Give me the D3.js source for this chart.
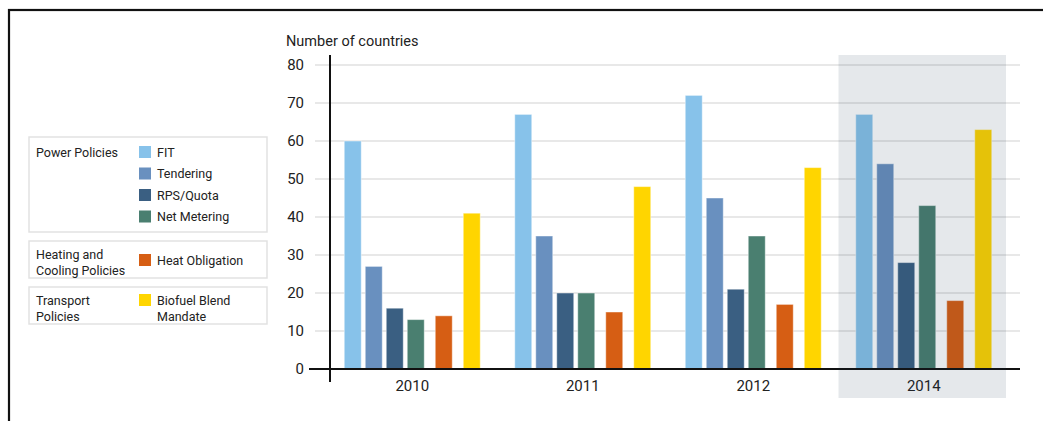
<!DOCTYPE html>
<html>
<head>
<meta charset="utf-8">
<script src="https://cdn.jsdelivr.net/npm/d3@7"></script>
<style>
    html, body { margin: 0; padding: 0; background: #fff; }
    svg { display: block; font-family: Roboto, "Liberation Sans", sans-serif; }
</style>
</head>
<body>
<div id="chart"></div>
<script>
// ── Policy counts by year ──

const years = ['2010', '2011', '2012', '2014'];
const seriesKeys = ['FIT', 'Tendering', 'RPS/Quota', 'Net Metering', 'Heat Obligation', 'Biofuel Blend Mandate'];
const seriesColors = ['#87c2ea', '#6990bf', '#3a5f82', '#4a7f70', '#d65e14', '#ffd500'];
const seriesPolicy = [0, 0, 0, 0, 1, 2];   // power / heating & cooling / transport

const fitValues = [60, 67, 72, 67];
const tenderingValues = [27, 35, 45, 54];
const rpsValues = [16, 20, 21, 28];
const netMeteringValues = [13, 20, 35, 43];
const heatValues = [14, 15, 17, 18];
const biofuelValues = [41, 48, 53, 63];

const yTicks = [0, 10, 20, 30, 40, 50, 60, 70, 80];
const highlightYear = '2014';

const legendGroups = [
    { title: ['Power Policies'], items: [0, 1, 2, 3] },
    { title: ['Heating and', 'Cooling Policies'], items: [4] },
    { title: ['Transport', 'Policies'], items: [5] },
];
const legendLabels = [['FIT'], ['Tendering'], ['RPS/Quota'], ['Net Metering'], ['Heat Obligation'], ['Biofuel Blend', 'Mandate']];

const allValues = [fitValues, tenderingValues, rpsValues, netMeteringValues, heatValues, biofuelValues];

const width = 1043, height = 421;

const svg = d3.select('#chart').append('svg')
    .attr('width', width)
    .attr('height', height);

// Frame
svg.append('rect')
    .attr('x', 9).attr('y', 10)
    .attr('width', width).attr('height', height)
    .attr('fill', 'none')
    .attr('stroke', '#111')
    .attr('stroke-width', 2.2);

// Scales
const x0 = d3.scaleBand().domain(years).range([327, 1009]);
const groupWidth = 136;
const policyGap = 7;
const x1 = d3.scaleBand().domain(seriesKeys).range([0, 122]).paddingInner(4 / 21);
const y = d3.scaleLinear().domain([0, 80]).range([369, 65]);

// Gridlines
svg.append('g')
    .selectAll('line')
    .data(yTicks.filter(t => t > 0))
    .join('line')
    .attr('x1', 315).attr('x2', 1020)
    .attr('y1', d => y(d)).attr('y2', d => y(d))
    .attr('stroke', '#e0e0e0')
    .attr('stroke-width', 1.6);

// Bars
const bars = [];
years.forEach((yr, i) => {
    seriesKeys.forEach((k, j) => {
        bars.push({ year: yr, key: k, value: allValues[j][i], color: seriesColors[j], policy: seriesPolicy[j] });
    });
});

svg.append('g')
    .selectAll('rect')
    .data(bars)
    .join('rect')
    .attr('x', d => x0(d.year) + (x0.bandwidth() - groupWidth) / 2 + x1(d.key) + d.policy * policyGap)
    .attr('y', d => y(d.value))
    .attr('width', x1.bandwidth())
    .attr('height', d => y(0) - y(d.value))
    .attr('fill', d => d.color)
    .attr('stroke', 'rgba(255,255,255,0.45)')
    .attr('stroke-width', 1);

// Axes lines
svg.append('line')
    .attr('x1', 330).attr('x2', 330)
    .attr('y1', 55).attr('y2', 382)
    .attr('stroke', '#111').attr('stroke-width', 2);

svg.append('line')
    .attr('x1', 309).attr('x2', 1020)
    .attr('y1', y(0)).attr('y2', y(0))
    .attr('stroke', '#111').attr('stroke-width', 2);

// Y tick labels
svg.append('g')
    .selectAll('text')
    .data(yTicks)
    .join('text')
    .attr('x', 304)
    .attr('y', d => y(d))
    .attr('dy', '0.36em')
    .attr('text-anchor', 'end')
    .attr('font-size', 15)
    .attr('fill', '#222')
    .text(d => d);

svg.append('text')
    .attr('x', 286).attr('y', 46)
    .attr('font-size', 14.5)
    .attr('fill', '#222')
    .text('Number of countries');

// Category labels
svg.append('g')
    .selectAll('text')
    .data(years)
    .join('text')
    .attr('x', d => x0(d) + x0.bandwidth() / 2)
    .attr('y', 391)
    .attr('text-anchor', 'middle')
    .attr('font-size', 15)
    .attr('fill', '#222')
    .text(d => d);

// Highlight band (overlay on top)
svg.append('rect')
    .attr('x', x0(highlightYear))
    .attr('y', 55)
    .attr('width', x0.bandwidth() - 3)
    .attr('height', 343)
    .attr('fill', 'rgb(24,55,81)')
    .attr('fill-opacity', 0.115);

// Legend
const boxTops = [137, 241, 287];
const boxHeights = [95, 37, 37];
const legend = svg.append('g');

legendGroups.forEach((grp, gi) => {
    const top = boxTops[gi];
    legend.append('rect')
        .attr('x', 29).attr('y', top)
        .attr('width', 238).attr('height', boxHeights[gi])
        .attr('fill', 'none')
        .attr('stroke', '#e2e2e2')
        .attr('stroke-width', 1.5);

    const titleY = gi === 0 ? 152 : top + 13;
    grp.title.forEach((line, li) => {
        legend.append('text')
            .attr('x', 36)
            .attr('y', titleY + li * 16)
            .attr('dy', '0.36em')
            .attr('font-size', 12.5)
            .attr('fill', '#222')
            .text(line);
    });

    grp.items.forEach((si, ii) => {
        const cy = gi === 0 ? 152 + ii * 21.5 : (legendLabels[si].length > 1 ? top + 13 : top + 19);
        legend.append('rect')
            .attr('x', 139).attr('y', cy - 6)
            .attr('width', 12).attr('height', 12)
            .attr('fill', seriesColors[si]);
        legendLabels[si].forEach((line, li) => {
            legend.append('text')
                .attr('x', 157)
                .attr('y', cy + li * 16)
                .attr('dy', '0.36em')
                .attr('font-size', 12.5)
                .attr('fill', '#222')
                .text(line);
        });
    });
});
</script>
</body>
</html>
